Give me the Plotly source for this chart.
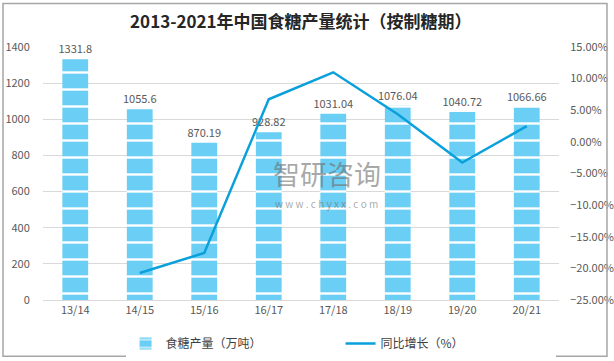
import plotly.graph_objects as go

categories = ["13/14", "14/15", "15/16", "16/17", "17/18", "18/19", "19/20", "20/21"]
production = [1331.8, 1055.6, 870.19, 928.82, 1031.04, 1076.04, 1040.72, 1066.66]
growth_cats = ["14/15", "15/16", "16/17", "17/18", "18/19", "19/20", "20/21"]
growth = [-20.74, -17.56, 6.74, 11.00, 4.36, -3.28, 2.49]

FONT = "Noto Sans CJK SC, Liberation Sans, sans-serif"
TICK = "#595959"

fig = go.Figure()
fig.add_trace(go.Bar(
    x=categories, y=production, name="食糖产量（万吨）",
    text=[str(v) for v in production], textposition="outside",
    constraintext="none",
    textfont=dict(size=11, color=TICK, family=FONT),
    cliponaxis=False,
    marker=dict(color="#6ACEF5", line=dict(width=0),
                pattern=dict(shape="-", fgcolor="#FFFFFF", bgcolor="#6ACEF5",
                             size=17, solidity=0.14, fillmode="replace")),
    width=0.4,
))
fig.add_trace(go.Scatter(
    x=growth_cats, y=growth, name="同比增长（%）", yaxis="y2",
    mode="lines", line=dict(color="#0AA0DC", width=2.5),
))

fig.add_annotation(text="智研咨询", x=0.55, y=0.5, xref="paper", yref="paper",
                   showarrow=False, font=dict(size=27, color="rgba(110,110,110,0.6)", family=FONT))
fig.add_annotation(text="w w w . c h y x x . c o m", x=0.55, y=0.38, xref="paper", yref="paper",
                   showarrow=False, font=dict(size=10, color="rgba(110,110,110,0.6)", family=FONT))

fig.update_layout(
    width=614, height=361,
    margin=dict(l=43, r=55, t=47, b=61, autoexpand=False),
    paper_bgcolor="white", plot_bgcolor="white",
    font=dict(family=FONT, color=TICK, size=11),
    title=dict(text="<b>2013-2021年中国食糖产量统计（按制糖期）</b>",
               x=0.49, xanchor="center", y=0.94, yanchor="middle",
               font=dict(size=17, color="#262626", family=FONT)),
    bargap=0.6,
    showlegend=True,
    legend=dict(orientation="h", x=0.16, xanchor="left", y=-0.115, yanchor="top",
                font=dict(size=12, color="#404040", family=FONT), itemwidth=30,
                entrywidth=170, entrywidthmode="pixels",
                tracegroupgap=0, traceorder="normal"),
    xaxis=dict(showgrid=False, showline=True, linecolor="#D9D9D9", linewidth=1,
               ticks="", automargin=False, tickfont=dict(size=11, color=TICK)),
    yaxis=dict(range=[0, 1400], dtick=200, showgrid=True, gridcolor="#D9D9D9",
               zeroline=False, showline=False, ticks="outside", ticklen=10,
               automargin=False,
               tickcolor="rgba(0,0,0,0)", tickfont=dict(size=11, color=TICK)),
    yaxis2=dict(range=[-25, 15], dtick=5, overlaying="y", side="right",
                showgrid=False, zeroline=False, tickformat=".2f", ticksuffix="%",
                automargin=False,
                ticks="outside", ticklen=8, tickcolor="rgba(0,0,0,0)",
                tickfont=dict(size=11, color=TICK)),
    shapes=[dict(type="rect", xref="paper", yref="paper", x0=-0.0775, x1=1.093,
                 y0=-0.222, y1=1.172, line=dict(color="#A6A6A6", width=1.5))],
)

fig.write_html("out.html", config={"displayModeBar": False},
               post_script="document.body.style.margin='0';document.body.style.overflow='hidden';")
